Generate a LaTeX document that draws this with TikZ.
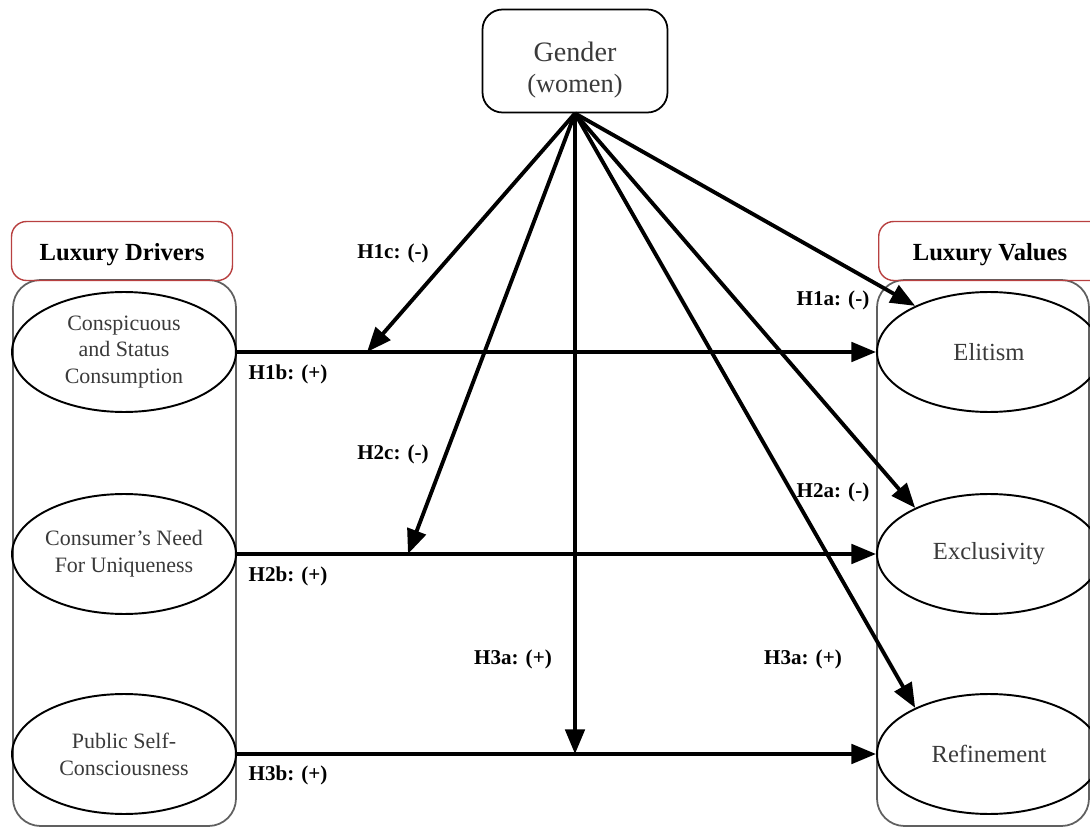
\documentclass[tikz,border=0pt]{standalone}
\usepackage{fontspec}
\setmainfont{Liberation Serif}
\usetikzlibrary{shapes.geometric,arrows.meta}
\definecolor{txtgray}{HTML}{3A3A3A}
\definecolor{hdrred}{HTML}{B84040}
\definecolor{boxgray}{HTML}{606060}
\begin{document}
\begin{tikzpicture}[x=0.02cm,y=-0.02cm,
  oval/.style={ellipse,draw=black,line width=1.1pt,minimum width=4.48cm,minimum height=2.4cm,inner sep=0pt,align=center,text=txtgray,font=\fontsize{12.5}{15.3}\selectfont},
  roval/.style={oval,font=\fontsize{14}{17}\selectfont},
  hdr/.style={draw=hdrred,line width=0.8pt,rounded corners=0.3cm,minimum width=4.42cm,minimum height=1.18cm},
  hdrtext/.style={font=\fontsize{14}{17}\selectfont\bfseries,inner sep=0pt},
  cont/.style={draw=boxgray,line width=1pt,rounded corners=0.55cm},
  arr/.style={line width=2.2pt,-{Triangle[length=14pt,width=11pt]}},
  lab/.style={font=\fontsize{12}{14}\selectfont\bfseries,inner sep=0pt}]
\clip (0,0) rectangle (1090,828);
\fill[white] (0,0) rectangle (1090,828);
% containers
\draw[cont] (13,280) rectangle (236,826);
\draw[cont] (877,280) rectangle (1089,826);
% headers
\node[hdr] (hl) at (122,251) {};
\node[hdrtext] (hlt) at (122,255) {Luxury Drivers};
\node[hdr,minimum width=4.6cm,anchor=west] (hr) at (878,251) {};
\node[hdrtext] (hrt) at (990,255) {Luxury Values};
% gender
\node[draw=black,line width=1pt,rounded corners=0.4cm,minimum width=3.7cm,minimum height=2.06cm] (g) at (575,61) {};
\node[align=center,text=txtgray,inner sep=0pt,font=\fontsize{16}{18}\selectfont] (gt) at (575,70) {Gender\\{\fontsize{15}{18}\selectfont(women)}};
% left ovals
\node[oval] (c1) at (124,352) {Conspicuous\\and Status\\Consumption};
\node[oval] (c2) at (124,554) {Consumer's Need\\For Uniqueness};
\node[oval] (c3) at (124,754) {Public Self-\\Consciousness};
% right ovals
\node[roval] (v1) at (989,352) {Elitism};
\node[roval] (v2) at (989,554) {Exclusivity};
\node[roval] (v3) at (989,754) {Refinement};
% moderation points
\coordinate (m1) at (367,352);
\coordinate (m2) at (408,554);
\coordinate (m3) at (575,754);
% horizontal arrows
\draw[arr] (c1.east) -- (v1.west);
\draw[arr] (c2.east) -- (v2.west);
\draw[arr] (c3.east) -- (v3.west);
% gender arrows
\draw[arr] (g.south) -- (m1);
\draw[arr] (g.south) -- (m2);
\draw[arr] (g.south) -- (m3);
\draw[arr] (g.south) -- (v1.148);
\draw[arr] (g.south) -- (v2.148);
\draw[arr] (g.south) -- (v3.148);
% labels
\node[lab] (l1c) at (393,253) {H1c: (-)};
\node[lab] (l1b) at (288,374) {H1b: (+)};
\node[lab] (l2c) at (393,454) {H2c: (-)};
\node[lab] (l2b) at (288,576) {H2b: (+)};
\node[lab] (l3a) at (513,659) {H3a: (+)};
\node[lab] (l3a2) at (803,659) {H3a: (+)};
\node[lab] (l1a) at (833,300) {H1a: (-)};
\node[lab] (l2a) at (833,492) {H2a: (-)};
\node[lab] (l3b) at (288,775) {H3b: (+)};
\end{tikzpicture}
\end{document}
